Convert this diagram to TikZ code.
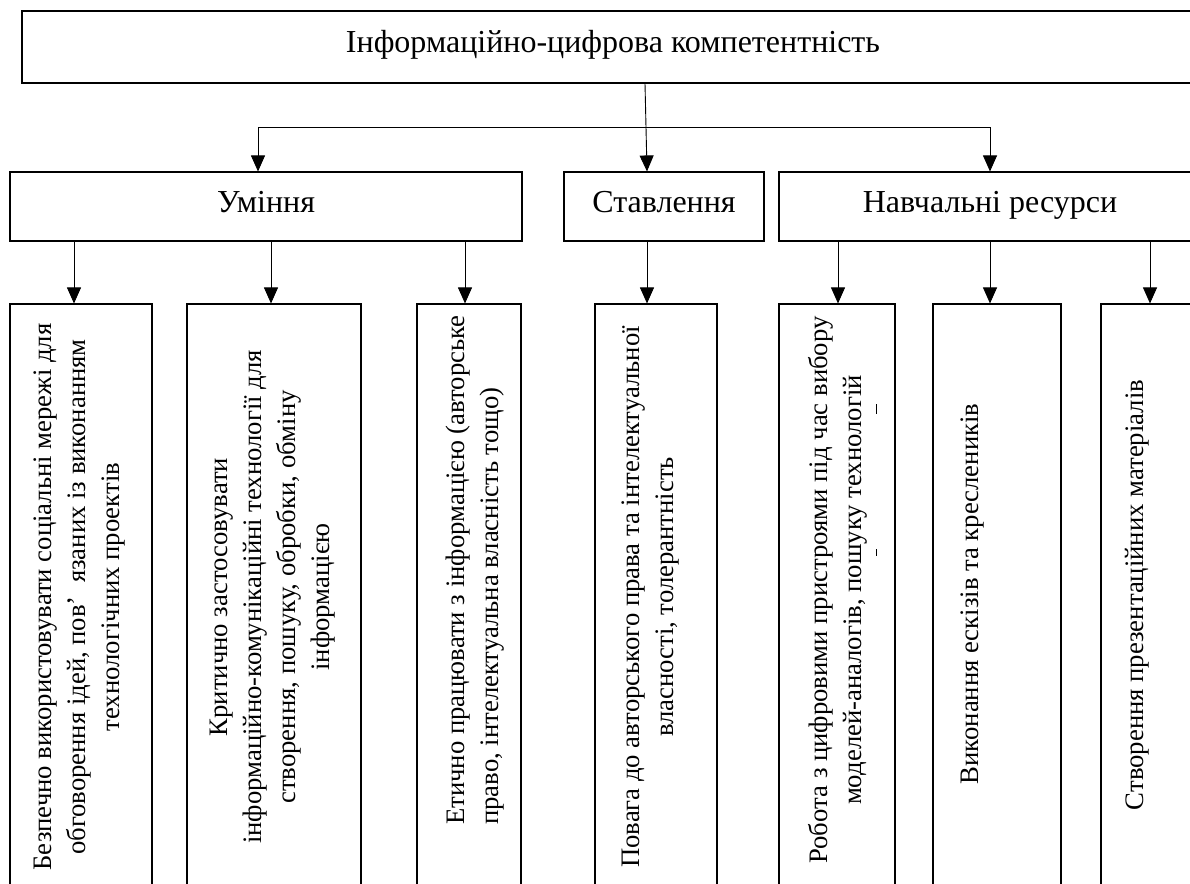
\documentclass[tikz,border=0pt]{standalone}
\usepackage{fontspec}
\setmainfont{Liberation Serif}
\usetikzlibrary{arrows.meta}
\begin{document}
\begin{tikzpicture}[x=1pt,y=-1pt,
  box/.style={draw, line width=1.1pt, inner sep=0pt},
  conn/.style={line width=0.9pt},
  arr/.style={line width=0.9pt, -{Triangle[length=16pt,width=14pt]}},
  head/.style={font=\fontsize{32}{38}\selectfont, text height=22pt, text depth=11pt},
  vtext/.style={rotate=90, align=center, inner sep=0pt, font=\fontsize{26.7}{34}\selectfont}]
\useasboundingbox (0,0) rectangle (1190,883);
\clip (0,0) rectangle (1190,883);
% top
\node[box, head, minimum width=1182pt, minimum height=72pt] (top) at (613,47) {Інформаційно-цифрова компетентність};
% second row
\node[box, head, minimum width=512pt, minimum height=69pt] (um) at (266,206.5) {Уміння};
\node[box, head, minimum width=200pt, minimum height=69pt] (stav) at (664,206.5) {Ставлення};
\node[box, head, minimum width=422pt, minimum height=69pt] (nav) at (990,206.5) {Навчальні ресурси};
% third row boxes
\node[box, minimum width=142pt, minimum height=586pt] (b1) at (81,597) {};
\node[box, minimum width=174pt, minimum height=586pt] (b2) at (274,597) {};
\node[box, minimum width=104pt, minimum height=586pt] (b3) at (469,597) {};
\node[box, minimum width=122pt, minimum height=586pt] (b4) at (656,597) {};
\node[box, minimum width=116pt, minimum height=586pt] (b5) at (837,597) {};
\node[box, minimum width=128pt, minimum height=586pt] (b6) at (997,597) {};
\node[box, minimum width=128pt, minimum height=586pt] (b7) at (1165,597) {};
% third row texts
\node[vtext] (t1) at (80,597) {Безпечно використовувати соціальні мережі для\\обговорення ідей, пов’\hspace{0.5em}язаних із виконанням\\технологічних проектів};
\node[vtext] (t2) at (273,597) {Критично застосовувати\\інформаційно-комунікаційні технології для\\створення, пошуку, обробки, обміну\\інформацією};
\node[vtext, align=left, anchor=west] (t3) at (475,825) {Етично працювати з інформацією (авторське\\право, інтелектуальна власність тощо)};
\node[vtext] (t4) at (650,597) {Повага до авторського права та інтелектуальної\\власності, толерантність};
\node[vtext] (t5) at (838,590) {Робота з цифровими пристроями під час вибору\\моделей-аналогів, пошуку технологій};
\node[vtext] (t6) at (972,594) {Виконання ескізів та креслеників};
\node[vtext] (t7) at (1137,595) {Створення презентаційних матеріалів};
% tiny marks in box 5
\draw[line width=0.6pt] (876,404) -- (876,414);
\draw[line width=0.6pt] (876,549) -- (876,556);
% connectors
\coordinate (jl) at (258,127);
\coordinate (jr) at (990,127);
\draw[conn] (jl) -- (jr);
\draw[arr] (jl) -- (jl |- um.north);
\draw[arr] (jr) -- (jr |- nav.north);
\draw[arr] ([xshift=32pt]top.south) -- ([xshift=-17pt]stav.north);
\coordinate (a1) at (74,0);
\coordinate (a2) at (271,0);
\coordinate (a3) at (465,0);
\coordinate (a4) at (647,0);
\coordinate (a5) at (838,0);
\coordinate (a6) at (990,0);
\coordinate (a7) at (1150,0);
\draw[arr] (um.south -| a1) -- (b1.north -| a1);
\draw[arr] (um.south -| a2) -- (b2.north -| a2);
\draw[arr] (um.south -| a3) -- (b3.north -| a3);
\draw[arr] (stav.south -| a4) -- (b4.north -| a4);
\draw[arr] (nav.south -| a5) -- (b5.north -| a5);
\draw[arr] (nav.south -| a6) -- (b6.north -| a6);
\draw[arr] (nav.south -| a7) -- (b7.north -| a7);
\end{tikzpicture}
\end{document}
